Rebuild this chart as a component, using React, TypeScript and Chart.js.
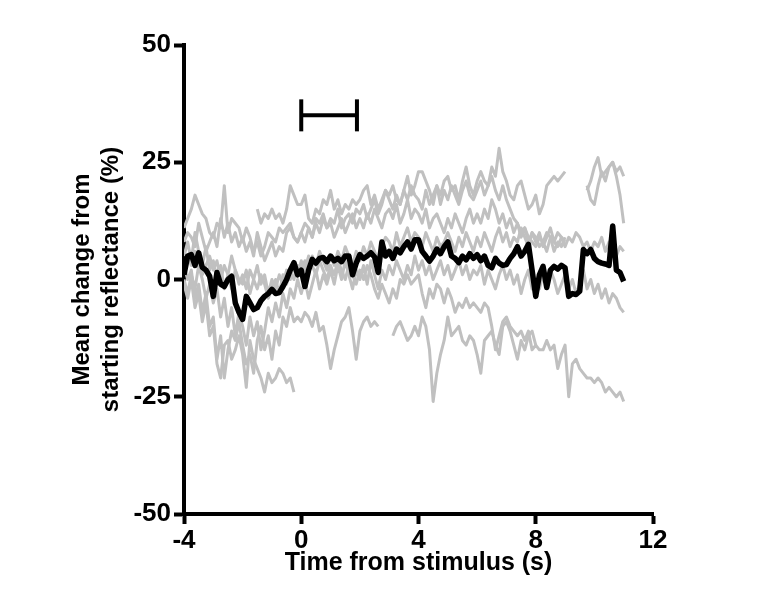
import React, { useEffect, useRef } from "react";
import { Chart, registerables } from "chart.js";
Chart.register(...registerables);

const _ = null;
const TIME_START = -4;
const TIME_STEP = 0.125;

const X_MIN = -4;
const X_MAX = 12;
const X_STEP = 4;
const Y_MIN = -50;
const Y_MAX = 50;
const Y_STEP = 25;

const X_TITLE = "Time from stimulus (s)";
const Y_TITLE = ["Mean change from", "starting reflectance (%)"];

// stimulus bar
const stimulusStart = 0;
const stimulusEnd = 1.9;
const stimulusLevel = 35;

const trial1 = [
  _, _, _, _, _, _, _, _,
  _, _, _, _, _, _, _, _,
  _, _, _, _, 15, 12, 14, 13,
  15, 13, 14, 12, 15, 20, 18, 16,
  16, 18, 13, 12, 15, 14, 17, 16,
  19, 15, 17, 14, 16, 15, 17, 16,
  17, 19, 20, 16, 18, 15, 17, 19,
  18, 20, 17, 16, 19, 22, 18, 20,
  23, 23, 21, 19, 16, 20, 18, 21,
  22, 19, 20, 17, 21, 24, 20, 18,
  21, 23, 21, 20, 24, 22, 28, 23,
  21, 18, 17, 20, 21, 18, 15, 16,
  18, 14, 16, 20, 21, 22, 21, 22,
  23, _, _, _, _, _, _, _,
  _, _, _, _, _, _, _, _,
  _,
];

const trial2 = [
  11, 13, 15, 18, 16, 14, 13, 10,
  9, 12, 11, 20, 10, 13, 12, 11,
  8, 11, 9, 6, 8, 5, 7, 10,
  9, 8, 11, 10, 11, 12, 9, 8,
  10, 12, 11, 9, 13, 12, 14, 11,
  13, 12, 15, 11, 13, 14, 12, 15,
  14, 16, 13, 15, 17, 14, 16, 19,
  17, 15, 18, 16, 19, 17, 20, 18,
  17, 15, 19, 16, 18, 20, 16, 19,
  17, 20, 18, 16, 19, 21, 18, 17,
  19, 21, 18, 20, 22, 19, 17, 20,
  17, 15, 13, 12, 10, 11, 9, 8,
  7, 9, 8, 6, 9, 8, 7, 9,
  8, _, _, _, _, _, 19, 21,
  24, 26, 22, 23, 24, 25, 23, 24,
  22,
];

const trial3 = [
  8, 10, 9, 7, 12, 9, 6, 8,
  10, 7, 13, 9, 12, 8, 10, 7,
  9, 6, 8, 5, 10, 7, 4, 6,
  8, 5, 7, 6, 10, 11, 9, 8,
  10, 8, 11, 9, 12, 10, 13, 11,
  12, 9, 11, 13, 10, 12, 14, 11,
  13, 11, 14, 12, 15, 13, 11, 14,
  15, 13, 16, 12, 14, 17, 13, 15,
  14, 12, 15, 11, 13, 14, 12, 10,
  13, 11, 14, 12, 10, 13, 15, 12,
  14, 12, 15, 13, 17, 15, 12, 14,
  11, 13, 10, 12, 9, 11, 8, 10,
  9, 7, 8, 10, 9, 6, 8, 7,
  9, _, _, _, _, _, 20, 17,
  16, 20, 23, 21, 24, 25, 22, 18,
  12,
];

const trial4 = [
  2, 5, 3, 6, 4, 1, 3, 5,
  2, 4, 0, 3, 1, -2, 2, 0,
  -1, 2, -3, 0, -2, 1, -1, -4,
  -2, 0, -3, 1, -1, 2, 0, 3,
  2, 4, 1, 5, 3, 6, 4, 2,
  5, 3, 6, 4, 7, 5, 3, 6,
  4, 7, 5, 8, 6, 4, 7, 9,
  8, 6, 10, 7, 9, 11, 8, 10,
  9, 7, 10, 8, 6, 9, 7, 8,
  10, 8, 6, 9, 7, 10, 8, 6,
  9, 7, 10, 8, 6, 9, 11, 8,
  10, 7, 9, 8, 11, 9, 7, 10,
  8, 10, 7, 9, 11, 8, 10, 9,
  7, 9, 8, 10, 9, 7, 8, 6,
  8, 7, 9, 6, 8, 7, 5, 7,
  6,
];

const trial5 = [
  0, -3, 1, -2, 3, 0, -4, -1,
  -5, -2, -8, -4, -10, -6, -12, -7,
  -10, -14, -8, -12, -9, -15, -11, -6,
  -9, -5, -8, -3, -6, -2, -4, 0,
  -3, 0, -4, -1, 2, -2, 1, -1,
  2, -1, 3, 0, 4, 1, -2, 2,
  0, 3, -1, 4, 1, -2, 2, 0,
  3, 1, 4, 2, 0, 3, 1, 5,
  2, 4, 1, 3, 0, 2, 4, 1,
  3, 0, 2, 4, 1, 3, 0, 2,
  1, 3, -1, 2, 0, -2, 1, 3,
  0, 2, -1, 1, -3, 0, 2, -2,
  0, -2, 1, -1, 2, 0, -3, -1,
  1, -2, 0, -3, -1, 2, -2, 0,
  -3, -1, -4, -2, -5, -3, -4, -6,
  -7,
];

const trial6 = [
  3, 0, 2, -4, -1, -7, -3, -10,
  -8, -17, -12, -21, -15, -11, -13, -9,
  -14, -18, -16, -20, -13, -10, -15, -12,
  -17, -11, -14, -8, -10, -6, -9, -8,
  -9, -7, -8, -10, -7, -11, -10, -14,
  -19, -15, -12, -9, -8, -6, -11, -17,
  -11, -9, -8, -10, -9, -10, _, _,
  _, -12, -10, -9, -11, -13, -12, -10,
  -12, -8, -10, -15, -26, -20, -16, -13,
  -8, -12, -11, -10, -13, -14, -12, -13,
  -16, -20, -13, -12, -11, -14, -16, -10,
  -9, -11, -14, -17, -13, -15, -12, -11,
  -14, _, _, _, _, _, _, _,
  _, _, _, _, _, _, _, _,
  _, _, _, _, _, _, _, _,
  _,
];

const trial7 = [
  5, 8, 4, 10, 6, 3, 7, 2,
  4, 0, 3, -2, 1, 5, 2, -1,
  1, -2, 2, 0, 3, -1, 1, -3,
  0, -2, 1, -1, 2, 0, 3, 1,
  4, 2, 5, 3, 1, 4, 2, 0,
  3, 1, 4, 2, 0, 3, 1, -1,
  2, 0, 3, 1, -2, -4, -1, -3,
  -5, -2, -4, 0, -1, 1, -1, 0,
  1, -3, -6, -2, -4, -1, -2, -5,
  -2, -4, -7, -5, -6, -4, -6, -5,
  -6, -7, -5, -6, -10, -15, -12, -9,
  -8, -10, -11, -12, -11, -13, -11, -15,
  -14, -15, -15, -13, -15, -14, -19, -16,
  -14, -25, -18, -17, -19, -20, -21, -21,
  -22, -21, -22, -24, -23, -24, -25, -24,
  -26,
];

const trial8 = [
  -1, -4, 0, -6, -3, -9, -5, -12,
  -10, -18, -21, -14, -13, -17, -15, -12,
  -16, -23, -13, -17, -19, -21, -24, -20,
  -22, -21, -19, -20, -22, -21, -24, _,
  _, _, _, _, _, _, _, _,
  _, _, _, _, _, _, _, _,
  _, _, _, _, _, _, _, _,
  _, _, _, _, _, _, _, _,
  _, _, _, _, _, _, _, _,
  _, _, _, _, _, _, _, _,
  _, _, _, _, _, _, _, _,
  _, _, _, _, _, _, _, _,
  _, _, _, _, _, _, _, _,
  _, _, _, _, _, _, _, _,
  _, _, _, _, _, _, _, _,
  _,
];

const meanTrace = [
  1, 5, 5.3, 3, 5.7, 2.6, 2, 0.7,
  -3.6, 1.5, -1, -1.5, 0, 0.7, -5, -7,
  -8.5, -3.6, -5, -6.4, -6, -4.5, -3.6, -3,
  -2.1, -3, -2.8, -1.5, 0, 2, 3.6, 1,
  2, -1.5, 2, 4.3, 3.5, 4.5, 4.7, 3.8,
  5, 4, 4.5, 3.8, 5, 5, 1, 3.5,
  5.3, 4.5, 5, 5.7, 4.8, 1.5, 8, 5,
  6, 4.5, 6.5, 5.7, 7, 8, 6.5, 8.5,
  8.5, 6, 5, 3.9, 5, 6.5, 5.5, 7,
  8, 5, 4.5, 3.6, 5, 4.2, 5.5, 4.5,
  5.3, 4, 5, 3, 2.5, 4.5, 3.5, 3,
  3.2, 4.5, 5.5, 7, 5, 6, 7.5, 2,
  -3.6, 1, 2.8, -1.7, 2, 2.8, 2.2, 3,
  2.5, -3.6, -3, -3.2, -2.5, 6.4, 5.5, 6.4,
  4.5, 3.8, 3.5, 3.3, 3, 11.4, 2, 1.5,
  -0.4,
];

const trials = [trial1, trial2, trial3, trial4, trial5, trial6, trial7, trial8];

const GREY = "rgb(192,192,192)";
const FONT = "'Liberation Sans', Arial, sans-serif";

function toPoints(values: (number | null)[]) {
  return values.map((v, i) => ({ x: TIME_START + i * TIME_STEP, y: v }));
}

export default function App() {
  const canvasRef = useRef<HTMLCanvasElement | null>(null);

  useEffect(() => {
    const canvas = canvasRef.current;
    if (!canvas) return;

    const datasets: any[] = trials.map((t, k) => ({
      label: "trial " + (k + 1),
      data: toPoints(t),
      borderColor: GREY,
      borderWidth: 3,
      borderJoinStyle: "round",
      pointRadius: 0,
      spanGaps: false,
      tension: 0,
      order: 3,
    }));
    datasets.push({
      label: "mean",
      data: toPoints(meanTrace),
      borderColor: "#000",
      borderWidth: 5.5,
      borderJoinStyle: "round",
      pointRadius: 0,
      tension: 0,
      order: 1,
    });
    datasets.push({
      label: "stimulus",
      data: [
        { x: stimulusStart, y: stimulusLevel },
        { x: stimulusEnd, y: stimulusLevel },
      ],
      borderColor: "#000",
      borderWidth: 4,
      pointStyle: "line",
      pointRotation: 90,
      pointRadius: 16,
      pointBorderWidth: 4,
      pointBorderColor: "#000",
      pointBackgroundColor: "#000",
      order: 0,
    });

    const chart = new Chart(canvas, {
      type: "line",
      data: { datasets },
      options: {
        animation: false,
        responsive: false,
        events: [],
        layout: { padding: { left: 0, top: 45, right: 104, bottom: 0 } },
        plugins: {
          legend: { display: false },
          tooltip: { enabled: false },
        },
        scales: {
          x: {
            type: "linear",
            min: X_MIN,
            max: X_MAX,
            afterFit: (s: any) => {
              s.height = 83;
            },
            ticks: {
              stepSize: X_STEP,
              color: "#000",
              padding: 1,
              font: { family: FONT, weight: "bold", size: 26 },
            },
            grid: {
              display: true,
              drawOnChartArea: false,
              drawTicks: true,
              tickLength: 10,
              tickWidth: 4,
              tickColor: "#000",
            },
            border: { display: true, width: 4, color: "#000" },
            title: {
              display: true,
              text: X_TITLE,
              color: "#000",
              padding: { top: 0, bottom: 19 },
              font: { family: FONT, weight: "bold", size: 25 },
            },
          },
          y: {
            type: "linear",
            min: Y_MIN,
            max: Y_MAX,
            afterFit: (s: any) => {
              s.width = 184;
            },
            ticks: {
              stepSize: Y_STEP,
              color: "#000",
              padding: 3,
              font: { family: FONT, weight: "bold", size: 26 },
            },
            grid: {
              display: true,
              drawOnChartArea: false,
              drawTicks: true,
              tickLength: 10,
              tickWidth: 4,
              tickColor: "#000",
            },
            border: { display: true, width: 4, color: "#000" },
            title: {
              display: true,
              text: Y_TITLE,
              color: "#000",
              padding: { top: 68, bottom: 0 },
              font: { family: FONT, weight: "bold", size: 24 },
            },
          },
        },
      },
    });
    return () => chart.destroy();
  }, []);

  return (
    <div style={{ position: "absolute", left: 0, top: 0, width: 757, height: 597, background: "#fff" }}>
      <canvas ref={canvasRef} width={757} height={597} />
    </div>
  );
}
